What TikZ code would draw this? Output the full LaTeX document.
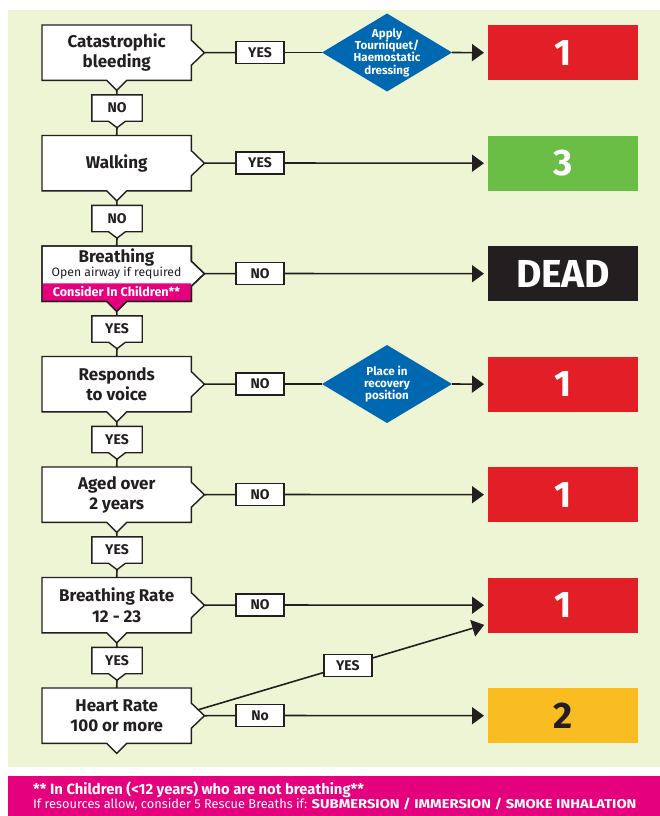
\documentclass[tikz,border=0pt]{standalone}
\usepackage{fontspec}
\setmainfont{Fira Sans}
\usetikzlibrary{calc,arrows.meta}
\definecolor{bgc}{HTML}{EEF5D4}
\definecolor{ink}{HTML}{231F20}
\definecolor{redc}{HTML}{E21F26}
\definecolor{grnc}{HTML}{6ABD45}
\definecolor{ambc}{HTML}{F9BC21}
\definecolor{bluc}{HTML}{0068B1}
\definecolor{pnkc}{HTML}{E5007D}
\pgfdeclarelayer{back}
\pgfdeclarelayer{shape}
\pgfsetlayers{back,shape,main}
\newcommand\qpath[1]{(#1.north west) -- (#1.north east) -- ($(#1.east)+(0,-12.5)$) -- ($(#1.east)+(13,0)$) -- ($(#1.east)+(0,12.5)$) -- (#1.south east) -- ($(#1.south)+(10,0)$) -- ($(#1.south)+(0,10)$) -- ($(#1.south)+(-10,0)$) -- (#1.south west) -- cycle}
\newcommand\lpath[1]{(#1.north west) -- (#1.north east) -- (#1.south east) -- ($(#1.south)+(8.5,0)$) -- ($(#1.south)+(0,6.5)$) -- ($(#1.south)+(-8.5,0)$) -- (#1.south west) -- cycle}
\newcommand\dpath[1]{($(#1)+(-65,0)$) -- ($(#1)+(0,-39)$) -- ($(#1)+(65,0)$) -- ($(#1)+(0,39)$) -- cycle}
\begin{document}
\begin{tikzpicture}[x=1pt,y=-1pt,
  qb/.style={minimum width=149pt,minimum height=55pt,inner sep=0pt,align=center,anchor=north west,text=ink,font=\bfseries\fontsize{17}{20.5}\selectfont},
  rb/.style={minimum width=150pt,minimum height=55pt,inner sep=0pt,anchor=north west,fill=#1,text=white,font=\bfseries\fontsize{37}{39}\selectfont},
  lb/.style={minimum width=50pt,minimum height=26pt,inner sep=0pt,text=ink,font=\bfseries\fontsize{14}{15}\selectfont},
  rl/.style={draw=ink,fill=white,line width=1.4pt,minimum width=48pt,minimum height=22pt,inner sep=0pt,text=ink,font=\bfseries\fontsize{14}{15}\selectfont},
  dtx/.style={text=white,align=center,inner sep=0pt,font=\bfseries\fontsize{11.6}{12.4}\selectfont},
  conn/.style={draw=ink,line width=1.6pt},
  arr/.style={conn,-{Triangle[length=12pt,width=17pt]},shorten >=4pt},
  outl/.style={draw=ink,fill=white,line width=1.4pt,line join=miter},
  ft/.style={anchor=west,text=white,inner sep=0pt}]
\useasboundingbox (0,0) rectangle (660,816);
\begin{pgfonlayer}{back}
  \fill[white] (0,0) rectangle (660,816);
  \fill[bgc] (8,10) rectangle (660,767);
  \fill[pnkc] (8,776) rectangle (660,816);
\end{pgfonlayer}
% question boxes
\node[qb] (b1) at (42,25) {Catastrophic\\bleeding};
\node[qb] (b2) at (42,135.5) {Walking};
\node[qb] (b3) at (42,246) {};
\node[qb] (b4) at (42,356.5) {Responds\\to voice};
\node[qb] (b5) at (42,467) {Aged over\\2 years};
\node[qb] (b6) at (42,577.5) {Breathing Rate\\12 - 23};
\node[qb] (b7) at (42,688) {Heart Rate\\100 or more};
\node[text=ink,inner sep=0pt,font=\bfseries\fontsize{17}{18}\selectfont] (t3a) at (116.5,257.5) {Breathing};
\node[text=ink,inner sep=0pt,font=\fontsize{12.2}{13}\selectfont] (t3b) at (116.5,273) {Open airway if required};
\node[text=white,inner sep=0pt,font=\bfseries\fontsize{12.6}{13}\selectfont] (t3c) at (116.5,291) {Consider In Children**};
\foreach \i in {1,...,7}{
  \coordinate (b\i r) at ($(b\i.east)+(13,0)$);
  \coordinate (b\i b) at ($(b\i.south)+(0,10)$);
}
% down labels
\node[lb] (u1) at (117,108) {NO};
\node[lb] (u2) at (117,218.5) {NO};
\node[lb] (u3) at (117,329) {YES};
\node[lb] (u4) at (117,439.5) {YES};
\node[lb] (u5) at (117,550) {YES};
\node[lb] (u6) at (117,660.5) {YES};
\foreach \i in {1,...,6}{
  \coordinate (u\i b) at ($(u\i.south)+(0,6.5)$);
}
% result boxes
\node[rb=redc] (r1) at (488,25) {1};
\node[rb=grnc] (r2) at (488,135.5) {3};
\node[rb=ink,font=\bfseries\fontsize{39}{40}\selectfont] (r3) at (488,246) {DEAD};
\node[rb=redc] (r4) at (488,356.5) {1};
\node[rb=redc] (r5) at (488,467) {1};
\node[rb=redc] (r6) at (488,577.5) {1};
\node[rb=ambc,text=ink] (r7) at (488,688) {2};
% diamonds
\node[dtx] (d1) at (387,52.5) {Apply\\Tourniquet/\\Haemostatic\\dressing};
\node[dtx] (d2) at (387,384) {Place in\\recovery\\position};
\coordinate (d1w) at ($(d1)+(-65,0)$);
\coordinate (d1e) at ($(d1)+(65,0)$);
\coordinate (d2w) at ($(d2)+(-65,0)$);
\coordinate (d2e) at ($(d2)+(65,0)$);
% shapes layer
\begin{pgfonlayer}{shape}
  \foreach \i in {1,...,7}{ \draw[outl] \qpath{b\i}; }
  \fill[pnkc] ($(b3.south west)+(0,-18)$) -- ($(b3.south east)+(0,-18)$) -- (b3.south east) -- ($(b3.south)+(10,0)$) -- ($(b3.south)+(0,10)$) -- ($(b3.south)+(-10,0)$) -- (b3.south west) -- cycle;
  \draw[draw=ink,line width=1.4pt] \qpath{b3};
  \foreach \i in {1,...,6}{ \draw[outl] \lpath{u\i}; }
  \fill[bluc] \dpath{d1};
  \fill[bluc] \dpath{d2};
\end{pgfonlayer}
% vertical connectors
\draw[conn] (b1b) -- (u1.north); \draw[conn] (u1b) -- (b2.north);
\draw[conn] (b2b) -- (u2.north); \draw[conn] (u2b) -- (b3.north);
\draw[conn] (b3b) -- (u3.north); \draw[conn] (u3b) -- (b4.north);
\draw[conn] (b4b) -- (u4.north); \draw[conn] (u4b) -- (b5.north);
\draw[conn] (b5b) -- (u5.north); \draw[conn] (u5b) -- (b6.north);
\draw[conn] (b6b) -- (u6.north); \draw[conn] (u6b) -- (b7.north);
% right labels
\node[rl] (n1) at (260,52.5) {YES};
\node[rl] (n2) at (260,163) {YES};
\node[rl] (n3) at (260,273.5) {NO};
\node[rl] (n4) at (260,384) {NO};
\node[rl] (n5) at (260,494.5) {NO};
\node[rl] (n6) at (260,605) {NO};
\node[rl] (n7) at (260,715.5) {No};
% horizontal connectors
\draw[conn] (b1r) -- (n1); \draw[conn] (n1) -- (d1w); \draw[arr] (d1e) -- (r1.west);
\draw[conn] (b2r) -- (n2); \draw[arr] (n2) -- (r2.west);
\draw[conn] (b3r) -- (n3); \draw[arr] (n3) -- (r3.west);
\draw[conn] (b4r) -- (n4); \draw[conn] (n4) -- (d2w); \draw[arr] (d2e) -- (r4.west);
\draw[conn] (b5r) -- (n5); \draw[arr] (n5) -- (r5.west);
\draw[conn] (b6r) -- (n6); \draw[arr] (n6) -- (r6.west);
\draw[conn] (b7r) -- (n7); \draw[arr] (n7) -- (r7.west);
% diagonal
\coordinate (s7) at ($(b7r)+(-6,-6)$);
\coordinate (t6) at ($(r6.west)+(0,18.5)$);
\draw[arr] (s7) -- node[rl,pos=0.516] (n7y) {YES} (t6);
% footer
\node[ft,font=\bfseries\fontsize{14.8}{15}\selectfont] (f1) at (33,789.5) {** In Children (<12 years) who are not breathing**};
\node[ft,font=\fontsize{12.8}{13}\selectfont] (f2) at (33,804.5) {If resources allow, consider 5 Rescue Breaths if: \scalebox{1.15}[1]{\bfseries SUBMERSION / IMMERSION / SMOKE INHALATION}};
\end{tikzpicture}
\end{document}
